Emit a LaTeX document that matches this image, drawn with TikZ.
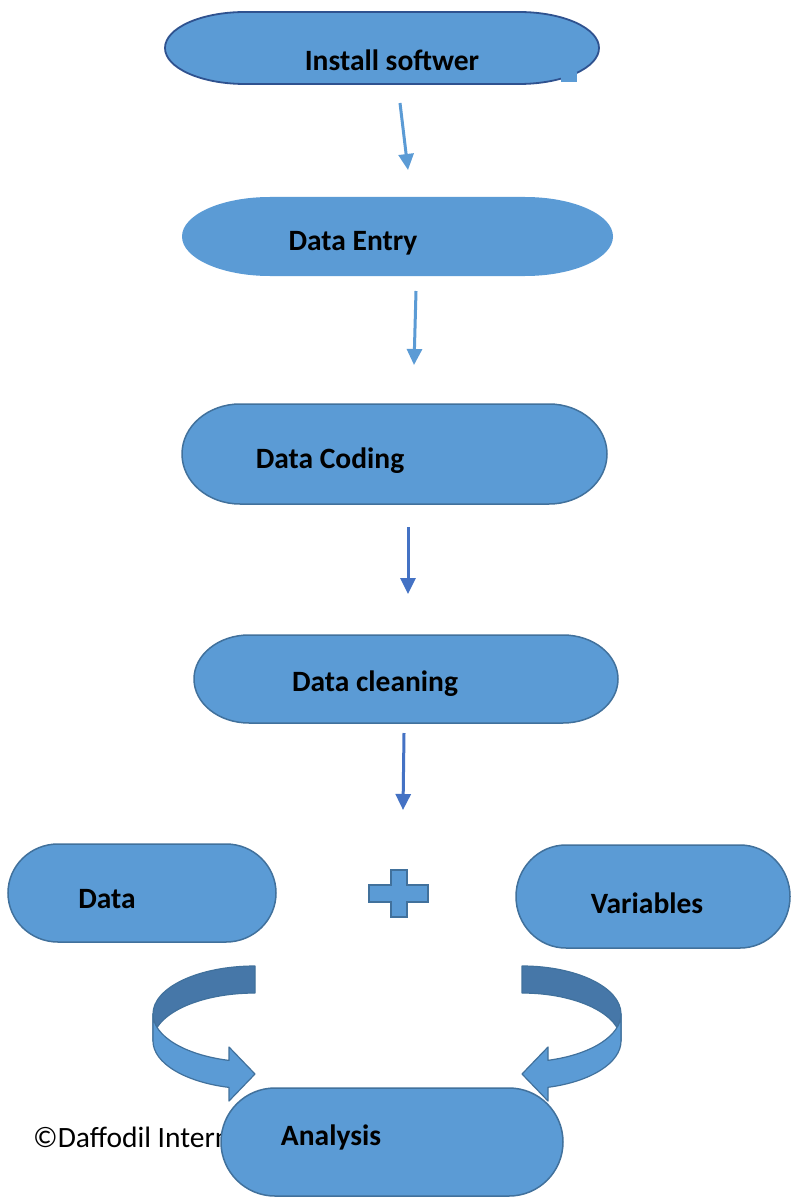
\documentclass[tikz,border=0pt]{standalone}
\usepackage{fontspec}
\setmainfont{Carlito}
\usetikzlibrary{arrows.meta}
\definecolor{fillblue}{HTML}{5B9BD5}
\definecolor{lineblue}{HTML}{41719C}
\definecolor{topline}{HTML}{2F528F}
\definecolor{darkband}{HTML}{4677A8}
\definecolor{arrowA}{HTML}{5B9BD5}
\definecolor{arrowB}{HTML}{4472C4}
\newcommand{\pillshape}[6]{%
  \pgfmathsetmacro\pL{#2+#6}\pgfmathsetmacro\pR{#4-#6}\pgfmathsetmacro\pry{(#5-#3)/2}%
  \path[#1] (\pL,#3) -- (\pR,#3) arc[start angle=-90,end angle=90,x radius=#6,y radius=\pry]
    -- (\pL,#5) arc[start angle=90,end angle=270,x radius=#6,y radius=\pry] -- cycle;}
\tikzset{
  pill/.style={fill=fillblue,draw=lineblue,line width=1.5pt},
  pillnl/.style={fill=fillblue},
  lbl/.style={font=\fontsize{29.5}{32}\selectfont\bfseries,inner sep=0pt},
  copyr/.style={font=\fontsize{29.5}{32}\selectfont,inner sep=0pt,anchor=west},
  flowA/.style={draw=arrowA,line width=3pt,-{Triangle[width=15pt,length=16pt]}},
  flowB/.style={draw=arrowB,line width=3pt,-{Triangle[width=15pt,length=16pt]}},
  backband/.style={fill=darkband,draw=lineblue,line width=1.2pt,line join=round},
  frontband/.style={fill=fillblue,draw=lineblue,line width=1.2pt,line join=round},
  plusshape/.style={fill=fillblue,draw=lineblue,line width=2pt}
}
\begin{document}
\begin{tikzpicture}[x=1pt,y=-1pt]
\useasboundingbox (0,0) rectangle (791,1198);
\fill[white] (0,0) rectangle (791,1198);
% shapes
\pillshape{pill,draw=topline,line width=1.8pt}{165}{12}{599}{84}{80}
\fill[fillblue] (561,72) rectangle (577,82);
\pillshape{pillnl}{182}{197}{613}{276}{88}
\pillshape{pill}{182}{404}{607}{504}{58}
\pillshape{pill}{194}{635}{618}{723}{55}
\pillshape{pill}{8}{844}{276}{942}{50}
\pillshape{pill}{516}{845}{790}{948}{50}
% labels
\node[lbl] (inst) at (392,60) {Install softwer};
\node[lbl] (entry) at (353,243) {Data Entry};
\node[lbl] (coding) at (330,461) {Data Coding};
\node[lbl] (clean) at (375,684) {Data cleaning};
\node[lbl] (data) at (107,899) {Data};
\node[lbl] (vars) at (647,903) {Variables};
% straight arrows
\coordinate (a1s) at (400,103); \coordinate (a1e) at (408,170);
\coordinate (a2s) at (416,291); \coordinate (a2e) at (414,365);
\coordinate (a3s) at (408,527); \coordinate (a3e) at (408,594);
\coordinate (a4s) at (404,733); \coordinate (a4e) at (403,810);
\draw[flowA] (a1s) -- (a1e);
\draw[flowA] (a2s) -- (a2e);
\draw[flowB] (a3s) -- (a3e);
\draw[flowB] (a4s) -- (a4e);
% plus sign
\path[plusshape] (391,870) -- (407,870) -- (407,885) -- (428,885) -- (428,902) -- (407,902)
  -- (407,917) -- (391,917) -- (391,902) -- (369,902) -- (369,885) -- (391,885) -- cycle;
% left curved arrow
\path[backband] (255,966) arc[start angle=-90,end angle=-180,x radius=102,y radius=48]
  -- (153,1041) arc[start angle=180,end angle=270,x radius=102,y radius=48] -- cycle;
\path[frontband] (153,1014) arc[start angle=180,end angle=104.77,x radius=102,y radius=48]
  -- (229,1047) -- (255,1074) -- (229,1101) -- (229,1087.4)
  arc[start angle=104.77,end angle=180,x radius=102,y radius=48] -- cycle;
% right curved arrow
\path[backband] (522,966) arc[start angle=-90,end angle=0,x radius=99,y radius=48]
  -- (621,1041) arc[start angle=0,end angle=-90,x radius=99,y radius=48] -- cycle;
\path[frontband] (621,1014) arc[start angle=0,end angle=74.77,x radius=99,y radius=48]
  -- (548,1047) -- (522,1074) -- (548,1101) -- (548,1087.3)
  arc[start angle=74.77,end angle=0,x radius=99,y radius=48] -- cycle;
% copyright text, partly covered
\node[copyr] (copy) at (33,1137) {©Daffodil Intern};
% analysis
\pillshape{pill}{221}{1088}{563}{1196}{54}
\node[lbl] (anal) at (331,1137) {Analysis};
\end{tikzpicture}
\end{document}
